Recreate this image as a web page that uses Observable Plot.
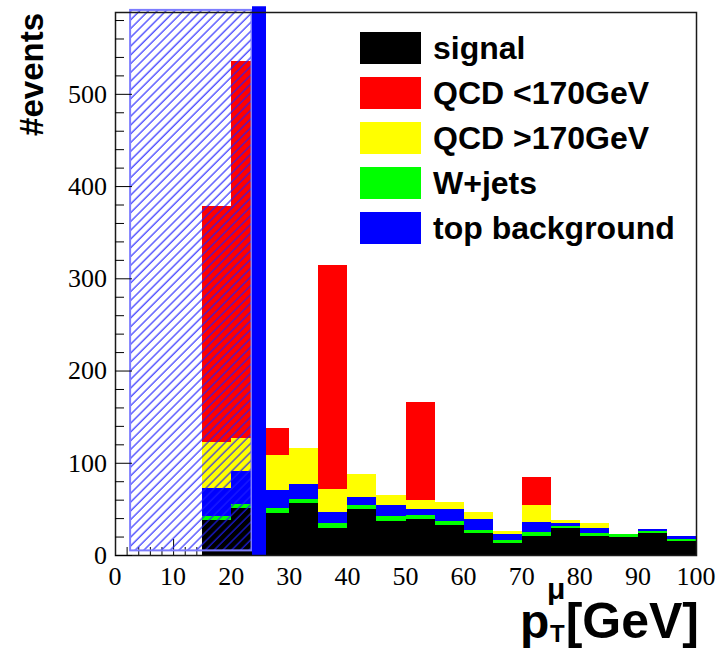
<!DOCTYPE html>
<html>
<head>
<meta charset="utf-8">
<script src="https://cdn.jsdelivr.net/npm/d3@7"></script>
<script src="https://cdn.jsdelivr.net/npm/@observablehq/plot@0.6"></script>
<style>
  html, body { margin: 0; padding: 0; background: #ffffff; }
  #chart svg { display: block; }
</style>
</head>
<body>
<div id="chart"></div>
<script>
// Muon transverse momentum, stacked by sample (5 GeV bins)
const binLow = [15, 20, 25, 30, 35, 40, 45, 50, 55, 60, 65, 70, 75, 80, 85, 90, 95];
const binWidth = 5;

const signal  = [37.9, 50.6, 45.2, 56.0, 29.6, 49.5, 36.8, 39.3, 32.3, 23.5, 13.3, 20.9, 29.6, 20.9, 19.9, 23.5, 15.5];
const wJets   = [4.4, 4.7, 5.4, 4.7, 5.1, 4.7, 5.1, 4.0, 4.5, 3.6, 3.3, 4.0, 2.2, 2.9, 2.9, 2.1, 1.8];
const topBkg  = [30.6, 35.7, 19.8, 15.9, 11.9, 8.3, 12.3, 6.5, 13.0, 11.9, 5.8, 10.9, 2.9, 5.8, 0, 2.9, 3.3];
const qcdHigh = [50.0, 35.4, 37.9, 39.0, 24.6, 25.3, 10.5, 9.5, 7.6, 7.6, 3.6, 18.4, 3.2, 5.1, 0, 0, 0];
const qcdLow  = [255.4, 408.8, 29.6, 0, 243.0, 0, 0, 106.5, 0, 0, 0, 30.0, 0, 0, 0, 0, 0];

// stacking order, bottom to top
const stackOrder = [
  ["signal", signal],
  ["W+jets", wJets],
  ["top background", topBkg],
  ["QCD >170GeV", qcdHigh],
  ["QCD <170GeV", qcdLow]
];

const legendNames  = ["signal", "QCD <170GeV", "QCD >170GeV", "W+jets", "top background"];
const legendColors = ["#000000", "#ff0000", "#ffff00", "#00ff00", "#0000ff"];

const xTickLabels = [0, 10, 20, 30, 40, 50, 60, 70, 80, 90, 100];
const yTickLabels = [0, 100, 200, 300, 400, 500];

// excluded region (hatched) and the cut line
const excludedX = [2.6, 23.5];
const excludedY = [5, 591];
const cutValue = 24.7;

const serif = "Liberation Serif, DejaVu Serif, Times New Roman, serif";
const sans = "Liberation Sans, Arial, sans-serif";

// build stacked rectangles
const rows = [];
binLow.forEach((lo, i) => {
  let acc = 0;
  for (const [name, values] of stackOrder) {
    const v = values[i];
    if (v > 0) rows.push({lo, hi: lo + binWidth, name, y1: acc, y2: acc + v});
    acc += v;
  }
});
const totals = binLow.map((_, i) => d3.sum(stackOrder, ([, v]) => v[i]));
const yMax = 1.1 * d3.max(totals);

const colorOf = new Map(legendNames.map((n, i) => [n, legendColors[i]]));

// hatch pattern definition
const hatchDefs = () => {
  const defs = d3.create("svg:defs");
  const p = defs.append("pattern")
    .attr("id", "hatch")
    .attr("patternUnits", "userSpaceOnUse")
    .attr("width", 6.2).attr("height", 6.2)
    .attr("patternTransform", "rotate(45)");
  p.append("line")
    .attr("x1", 1).attr("y1", 0).attr("x2", 1).attr("y2", 6.2)
    .attr("stroke", "#1e1eff").attr("stroke-width", 1.1);
  return defs.node();
};

// tick labels placed through the plot's own scales
const tickLabels = (index, scales, values, dims) => {
  const g = d3.create("svg:g")
    .attr("font-family", serif)
    .attr("font-size", 26)
    .attr("fill", "#000");
  const yBase = dims.height - dims.marginBottom;
  g.selectAll(".xl").data(xTickLabels).join("text")
    .attr("x", d => scales.x(d))
    .attr("y", yBase + 12)
    .attr("dy", "0.71em")
    .attr("text-anchor", "middle")
    .text(d => d);
  g.selectAll(".yl").data(yTickLabels).join("text")
    .attr("x", dims.marginLeft - 8)
    .attr("y", d => scales.y(d))
    .attr("dy", "0.34em")
    .attr("text-anchor", "end")
    .text(d => d);
  return g.node();
};

// legend in the upper right of the frame
const legend = () => {
  const g = d3.create("svg:g")
    .attr("font-family", sans)
    .attr("font-weight", "bold")
    .attr("font-size", 32)
    .attr("text-anchor", "start");
  legendNames.forEach((name, i) => {
    const y = 32 + i * 45;
    g.append("rect").attr("x", 360).attr("y", y).attr("width", 61).attr("height", 32)
      .attr("fill", colorOf.get(name));
    g.append("text").attr("x", 433).attr("y", y + 16).attr("dy", "0.35em")
      .attr("text-anchor", "start").attr("fill", "#000").text(name);
  });
  return g.node();
};

// axis titles
const titles = () => {
  const g = d3.create("svg:g")
    .attr("font-family", sans)
    .attr("font-weight", "bold")
    .attr("fill", "#000");
  g.append("text")
    .attr("transform", "translate(43,13) rotate(-90)")
    .attr("text-anchor", "end")
    .attr("font-size", 33)
    .text("#events");
  g.append("text").attr("x", 520).attr("y", 638).attr("text-anchor", "start").attr("font-size", 48).text("p");
  g.append("text").attr("x", 547).attr("y", 599).attr("text-anchor", "start").attr("font-size", 30).text("μ");
  g.append("text").attr("x", 550).attr("y", 642).attr("text-anchor", "start").attr("font-size", 24).text("T");
  g.append("text").attr("x", 699).attr("y", 638).attr("text-anchor", "end").attr("font-size", 50).text("[GeV]");
  return g.node();
};

const chart = Plot.plot({
  width: 718,
  height: 649,
  marginLeft: 115,
  marginRight: 22,
  marginTop: 12,
  marginBottom: 94,
  style: {background: "#ffffff", color: "#000000"},
  x: {domain: [0, 100], label: null},
  y: {domain: [0, yMax], label: null},
  color: {domain: legendNames, range: legendColors},
  marks: [
    hatchDefs,
    // inward ticks along the bottom
    Plot.axisX({ticks: d3.range(0, 101, 2).filter(v => v % 10), tickSize: -8, fill: "none", label: null, tickFormat: () => ""}),
    Plot.axisX({ticks: xTickLabels, tickSize: -16, fill: "none", label: null, tickFormat: () => ""}),
    // stacked histogram
    Plot.rect(rows, {x1: "lo", x2: "hi", y1: "y1", y2: "y2", fill: "name", shapeRendering: "crispEdges"}),
    // excluded region
    Plot.rect([{x1: excludedX[0], x2: excludedX[1], y1: excludedY[0], y2: excludedY[1]}],
      {x1: "x1", x2: "x2", y1: "y1", y2: "y2", fill: "url(#hatch)", stroke: "#7c7cff", strokeWidth: 2, clip: false}),
    // cut line
    Plot.ruleX([cutValue], {y1: 0, y2: 595, stroke: "#0000ff", strokeWidth: 14, clip: false}),
    Plot.frame({stroke: "#1a1a1a", strokeWidth: 1.5}),
    // inward ticks along the left
    Plot.axisY({ticks: d3.range(0, 590, 20).filter(v => v % 100), tickSize: -9, fill: "none", label: null, tickFormat: () => ""}),
    Plot.axisY({ticks: yTickLabels, tickSize: -17, fill: "none", label: null, tickFormat: () => ""}),
    tickLabels,
    legend,
    titles
  ]
});

document.getElementById("chart").appendChild(chart);
</script>
</body>
</html>
